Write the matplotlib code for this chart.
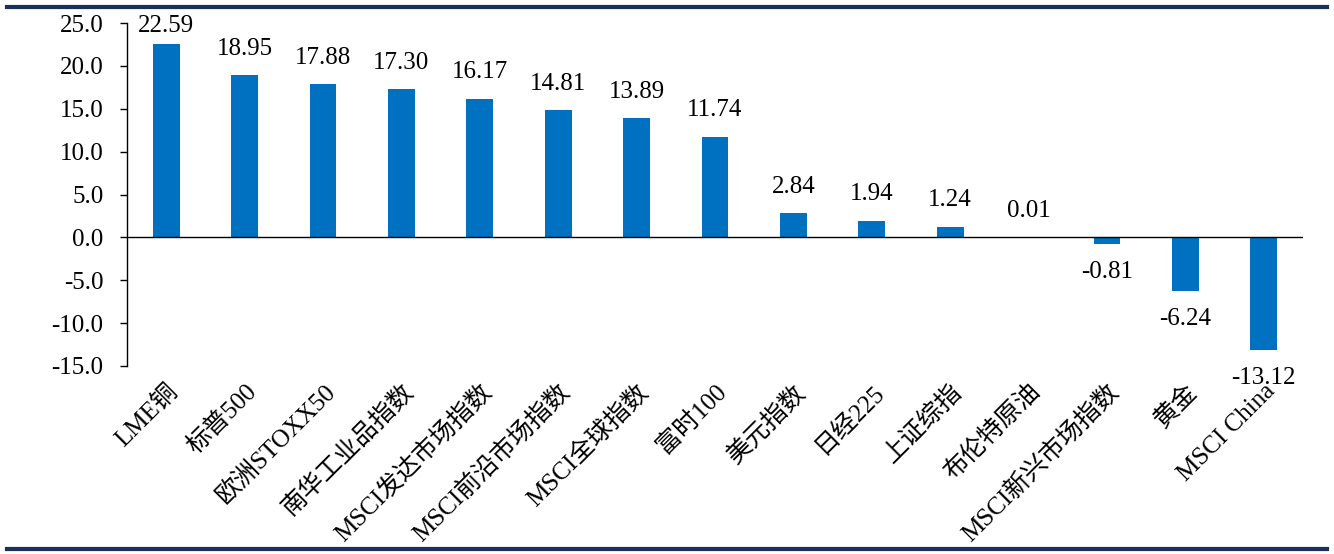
import matplotlib
matplotlib.use("Agg")
import matplotlib.pyplot as plt
from matplotlib.lines import Line2D

categories = ["LME铜", "标普500", "欧洲STOXX50", "南华工业品指数", "MSCI发达市场指数",
              "MSCI前沿市场指数", "MSCI全球指数", "富时100", "美元指数", "日经225",
              "上证综指", "布伦特原油", "MSCI新兴市场指数", "黄金", "MSCI China"]
values = [22.59, 18.95, 17.88, 17.30, 16.17, 14.81, 13.89, 11.74, 2.84, 1.94,
          1.24, 0.01, -0.81, -6.24, -13.12]
yticks = [-15, -10, -5, 0, 5, 10, 15, 20, 25]

plt.rcParams['font.family'] = ['Liberation Serif', 'Noto Sans CJK SC']
FS = 18

fig = plt.figure(figsize=(13.34, 5.54), dpi=100)
W, H = 1334, 554
ax = fig.add_axes([127 / W, 1 - 366 / H, (1303 - 127) / W, (366 - 23) / H])

x = list(range(len(categories)))
ax.bar(x, values, width=0.34, color="#0070C0", zorder=2)
ax.axhline(0, color="black", lw=1, zorder=3)

for xi, v in zip(x, values):
    if v >= 0:
        off = 11 if v < 21 else 5
        ax.annotate(f"{v:.2f}", (xi, v), xytext=(0, off), textcoords="offset points",
                    ha="center", va="bottom", fontsize=FS)
    else:
        ax.annotate(f"{v:.2f}", (xi, v), xytext=(0, -12), textcoords="offset points",
                    ha="center", va="top", fontsize=FS)

ax.set_xlim(-0.5, len(categories) - 0.5)
ax.set_ylim(-15, 25)
ax.set_yticks(yticks)
ax.set_yticklabels([f"{t:.1f}" for t in yticks], fontsize=FS)
ax.tick_params(axis="y", direction="out", length=5, width=1, pad=12)
ax.set_xticks(x)
ax.set_xticklabels(categories, rotation=45, ha="right", va="top",
                   rotation_mode="anchor", fontsize=FS)
ax.tick_params(axis="x", length=0, pad=10)
for s in ["top", "right", "bottom"]:
    ax.spines[s].set_visible(False)
ax.spines["left"].set_linewidth(1)

navy = "#1B2F5C"
fig.add_artist(Line2D([0.005, 0.995], [1 - 7 / H, 1 - 7 / H], color=navy, lw=3,
                      transform=fig.transFigure))
fig.add_artist(Line2D([0.005, 0.995], [1 - 549 / H, 1 - 549 / H], color=navy, lw=3,
                      transform=fig.transFigure))

fig.savefig("out.png", dpi=100)
